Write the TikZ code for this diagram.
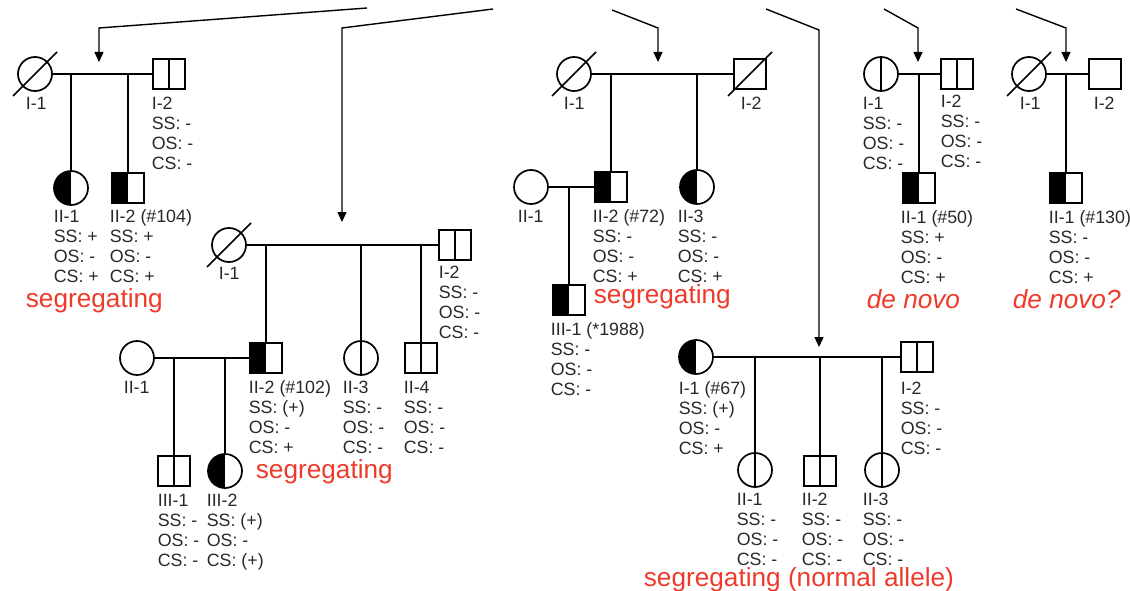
\documentclass[tikz,border=0pt]{standalone}
\usepackage{fontspec}
\setmainfont{Liberation Sans}
\usetikzlibrary{arrows.meta,calc}
\definecolor{segred}{RGB}{238,58,42}
\definecolor{txt}{RGB}{40,40,40}
\newcommand\plab[4]{\node[lab] (#1) at (#2,#3-6.9) {\rule{0pt}{13pt}#4};}
\newcommand\deadslash[1]{\draw ($(#1)+(-22,22)$) -- ($(#1)+(22,-22)$);}
\begin{document}
\begin{tikzpicture}[x=1pt,y=-1pt,line width=1.7pt,
  ci/.style={draw, circle, minimum size=34pt, inner sep=0pt},
  sq/.style={draw, rectangle, minimum width=32pt, minimum height=30pt, inner sep=0pt},
  split/.style={path picture={\draw (path picture bounding box.north) -- (path picture bounding box.south);}},
  half/.style={path picture={\fill (path picture bounding box.south west) rectangle (path picture bounding box.north);}},
  lab/.style={anchor=north west, inner sep=0pt, align=left, text=txt, font=\fontsize{17.8}{19.7}\selectfont},
  seg/.style={anchor=base west, inner sep=0pt, text=segred, font=\fontsize{26.2}{30}\selectfont},
  arr/.style={line width=1.4pt, -{Triangle[width=9pt,length=10pt]}}
]
\useasboundingbox (0,0) rectangle (1130,591);

% ---------------- Pedigree A
\node[ci] (AI1) at (35,74) {};
\node[sq,split] (AI2) at (169,74) {};
\node[ci,half] (AII1) at (71,188) {};
\node[sq,half] (AII2) at (128,188) {};
\deadslash{AI1}
\draw (AI1) -- (AI2);
\coordinate (dA1) at (71,74);
\coordinate (dA2) at (128,74);
\draw (dA1) -- (AII1);
\draw (dA2) -- (AII2);
\plab{lAI1}{25}{103}{I-1}
\plab{lAI2}{151}{103}{I-2\\SS: -\\OS: -\\CS: -}
\plab{lAII1}{53}{216}{II-1\\SS: +\\OS: -\\CS: +}
\plab{lAII2}{109}{216}{II-2 (\#104)\\SS: +\\OS: -\\CS: +}
\node[seg] (sA) at (25,307) {segregating};

% ---------------- Pedigree B
\node[ci] (BI1) at (229,245) {};
\node[sq,split] (BI2) at (455,245) {};
\node[ci] (BII1) at (137,358) {};
\node[sq,half] (BII2) at (266,358) {};
\node[ci,split] (BII3) at (361,358) {};
\node[sq,split] (BII4) at (421,358) {};
\node[sq,split] (BIII1) at (174,471) {};
\node[ci,half] (BIII2) at (225,471) {};
\deadslash{BI1}
\draw (BI1) -- (BI2);
\draw (BII1) -- (BII2);
\coordinate (dB1) at (266,245);
\coordinate (dB2) at (361,245);
\coordinate (dB3) at (421,245);
\coordinate (dB4) at (174,358);
\coordinate (dB5) at (225,358);
\draw (dB1) -- (BII2);
\draw (dB2) -- (BII3);
\draw (dB3) -- (BII4);
\draw (dB4) -- (BIII1);
\draw (dB5) -- (BIII2);
\plab{lBI1}{218}{273}{I-1}
\plab{lBI2}{438}{272}{I-2\\SS: -\\OS: -\\CS: -}
\plab{lBII1}{123}{387}{II-1}
\plab{lBII2}{248}{387}{II-2 (\#102)\\SS: (+)\\OS: -\\CS: +}
\plab{lBII3}{342}{387}{II-3\\SS: -\\OS: -\\CS: -}
\plab{lBII4}{403}{387}{II-4\\SS: -\\OS: -\\CS: -}
\plab{lBIII1}{157}{500}{III-1\\SS: -\\OS: -\\CS: -}
\plab{lBIII2}{206}{500}{III-2\\SS: (+)\\OS: -\\CS: (+)}
\node[seg] (sB) at (255,478) {segregating};

% ---------------- Pedigree C
\node[ci] (CI1) at (574,74) {};
\node[sq] (CI2) at (750,74) {};
\node[ci] (CII1) at (531,187) {};
\node[sq,half] (CII2) at (611,187) {};
\node[ci,half] (CII3) at (697,187) {};
\node[sq,half] (CIII1) at (569,300) {};
\deadslash{CI1}
\deadslash{CI2}
\draw (CI1) -- (CI2);
\draw (CII1) -- (CII2);
\coordinate (dC1) at (611,74);
\coordinate (dC2) at (697,74);
\coordinate (dC3) at (569,187);
\draw (dC1) -- (CII2);
\draw (dC2) -- (CII3);
\draw (dC3) -- (CIII1);
\plab{lCI1}{563}{103}{I-1}
\plab{lCI2}{740}{103}{I-2}
\plab{lCII1}{517}{216}{II-1}
\plab{lCII2}{592}{216}{II-2 (\#72)\\SS: -\\OS: -\\CS: +}
\plab{lCII3}{677}{216}{II-3\\SS: -\\OS: -\\CS: +}
\plab{lCIII1}{550}{329}{III-1 (*1988)\\SS: -\\OS: -\\CS: -}
\node[seg] (sC) at (593,303) {segregating};

% ---------------- Pedigree D
\node[ci,half] (DI1) at (696,357) {};
\node[sq,split] (DI2) at (917,357) {};
\node[ci,split] (DII1) at (755,470) {};
\node[sq,split] (DII2) at (820,471) {};
\node[ci,split] (DII3) at (882,470) {};
\draw (DI1) -- (DI2);
\coordinate (dD1) at (755,357);
\coordinate (dD2) at (820,357);
\coordinate (dD3) at (882,357);
\draw (dD1) -- (DII1);
\draw (dD2) -- (DII2);
\draw (dD3) -- (DII3);
\plab{lDI1}{678}{388}{I-1 (\#67)\\SS: (+)\\OS: -\\CS: +}
\plab{lDI2}{900}{388}{I-2\\SS: -\\OS: -\\CS: -}
\plab{lDII1}{736}{499}{II-1\\SS: -\\OS: -\\CS: -}
\plab{lDII2}{801}{499}{II-2\\SS: -\\OS: -\\CS: -}
\plab{lDII3}{862}{499}{II-3\\SS: -\\OS: -\\CS: -}
\node[seg] (sD) at (643,586) {segregating (normal allele)};

% ---------------- Pedigree E
\node[ci,split] (EI1) at (881,74) {};
\node[sq,split] (EI2) at (957,74) {};
\node[sq,half] (EII1) at (919,188) {};
\draw (EI1) -- (EI2);
\coordinate (dE1) at (919,74);
\draw (dE1) -- (EII1);
\plab{lEI1}{862}{103}{I-1\\SS: -\\OS: -\\CS: -}
\plab{lEI2}{940}{101}{I-2\\SS: -\\OS: -\\CS: -}
\plab{lEII1}{900}{217}{II-1 (\#50)\\SS: +\\OS: -\\CS: +}
\node[seg] (sE) at (866,308) {\itshape de novo};

% ---------------- Pedigree F
\node[ci] (FI1) at (1029,74) {};
\node[sq] (FI2) at (1105,74) {};
\node[sq,half] (FII1) at (1066,188) {};
\deadslash{FI1}
\draw (FI1) -- (FI2);
\coordinate (dF1) at (1066,74);
\draw (dF1) -- (FII1);
\plab{lFI1}{1019}{103}{I-1}
\plab{lFI2}{1093}{103}{I-2}
\plab{lFII1}{1048}{217}{II-1 (\#130)\\SS: -\\OS: -\\CS: +}
\node[seg] (sF) at (1012,308) {\itshape de novo?};

% ---------------- arrows
\coordinate (aA0) at (367,8);  \coordinate (aA1) at (99,28);   \coordinate (aA2) at (99,62);
\coordinate (aB0) at (493,9);  \coordinate (aB1) at (342,28);  \coordinate (aB2) at (342,222);
\coordinate (aC0) at (612,10); \coordinate (aC1) at (658,28);  \coordinate (aC2) at (658,62);
\coordinate (aD0) at (766,9);  \coordinate (aD1) at (819,30);  \coordinate (aD2) at (819,347);
\coordinate (aE0) at (884,9);  \coordinate (aE1) at (918,28);  \coordinate (aE2) at (918,62);
\coordinate (aF0) at (1016,9); \coordinate (aF1) at (1066,28); \coordinate (aF2) at (1066,62);
\draw[arr] (aA0) -- (aA1) -- (aA2);
\draw[arr] (aB0) -- (aB1) -- (aB2);
\draw[arr] (aC0) -- (aC1) -- (aC2);
\draw[arr] (aD0) -- (aD1) -- (aD2);
\draw[arr] (aE0) -- (aE1) -- (aE2);
\draw[arr] (aF0) -- (aF1) -- (aF2);
\end{tikzpicture}
\end{document}
